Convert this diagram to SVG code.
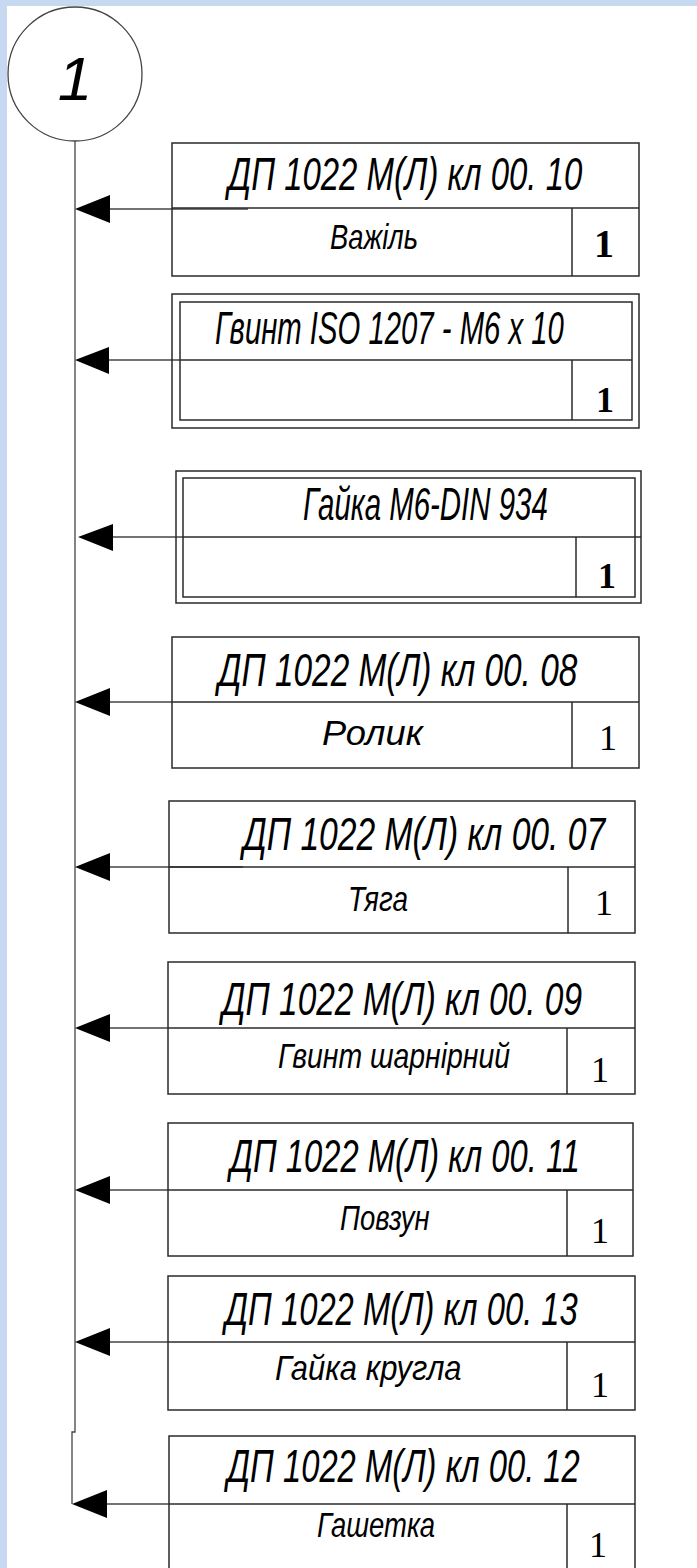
<svg xmlns="http://www.w3.org/2000/svg" width="697" height="1568" viewBox="0 0 697 1568">
<style>
.frame{fill:none;stroke:#2a2a2a;stroke-width:1.5}
.t1{font-family:"Liberation Sans","DejaVu Sans",sans-serif;font-style:italic;font-size:46px;fill:#000}
.t2{font-family:"Liberation Sans","DejaVu Sans",sans-serif;font-style:italic;font-size:35px;fill:#000}
.q{font-family:"Liberation Serif","Times New Roman",serif;font-size:36px;fill:#000;text-anchor:middle}
.qb{font-weight:bold}
.lead{stroke:#444;stroke-width:1.3;fill:none}
.arr{fill:#000}
</style>
<rect x="0" y="0" width="697" height="1568" fill="#ffffff"/>
<rect x="0" y="0" width="697" height="6" fill="#c6d9f1"/>
<rect x="0" y="0" width="7" height="1568" fill="#c6d9f1"/>

<g id="balloon">
<circle cx="75" cy="74" r="67" fill="#fff" stroke="#444" stroke-width="1.3"/>
<text x="75" y="100" text-anchor="middle" style="font-family:'Liberation Sans','DejaVu Sans',sans-serif;font-style:italic;font-size:62px">1</text>
</g>

<g id="connectors">
<path class="lead" d="M75,141 V1432 H72 V1504"/>
<line class="lead" x1="108" y1="209" x2="248" y2="209"/>
<line class="lead" x1="108" y1="360" x2="180" y2="360"/>
<line class="lead" x1="111" y1="537" x2="183" y2="537"/>
<line class="lead" x1="108" y1="702" x2="172" y2="702"/>
<line class="lead" x1="108" y1="867" x2="243" y2="867"/>
<line class="lead" x1="108" y1="1028" x2="168" y2="1028"/>
<line class="lead" x1="108" y1="1190" x2="168" y2="1190"/>
<line class="lead" x1="108" y1="1342" x2="168" y2="1342"/>
<line class="lead" x1="105" y1="1504" x2="169" y2="1504"/>
<polygon class="arr" points="75,209 110,195 110,223"/>
<polygon class="arr" points="75,360 109,347 109,374"/>
<polygon class="arr" points="78,537 113,524 113,551"/>
<polygon class="arr" points="75,702 110,688 110,716"/>
<polygon class="arr" points="75,867 110,853 110,881"/>
<polygon class="arr" points="75,1028 110,1014 110,1042"/>
<polygon class="arr" points="75,1190 110,1176 110,1204"/>
<polygon class="arr" points="75,1342 110,1328 110,1356"/>
<polygon class="arr" points="72,1504 107,1490 107,1518"/>
</g>

<g id="node1">
<rect class="frame" x="172" y="143" width="467" height="133"/>
<line class="frame" x1="172" y1="208" x2="639" y2="208"/>
<line class="frame" x1="572" y1="208" x2="572" y2="276"/>
<text class="t1" transform="translate(228,190) scale(0.72,1)" textLength="492" lengthAdjust="spacingAndGlyphs">ДП 1022 М(Л) кл 00. 10</text>
<text class="t2" transform="translate(330,249) scale(0.8,1)" textLength="110" lengthAdjust="spacingAndGlyphs">Важіль</text>
<text class="q" x="604" y="257" style="font-size:40px;font-weight:600">1</text>
</g>

<g id="node2">
<rect class="frame" x="172" y="294" width="467" height="134"/>
<rect class="frame" x="180" y="302" width="452" height="118"/>
<line class="frame" x1="180" y1="360" x2="632" y2="360"/>
<line class="frame" x1="572" y1="360" x2="572" y2="420"/>
<text class="t1" transform="translate(215,344) scale(0.68,1)" textLength="513" lengthAdjust="spacingAndGlyphs">Гвинт ISO 1207 - M6 x 10</text>
<text class="q qb" x="605" y="412">1</text>
</g>

<g id="node3">
<rect class="frame" x="176" y="471" width="465" height="132"/>
<rect class="frame" x="183" y="478" width="452" height="119"/>
<line class="frame" x1="183" y1="537" x2="641" y2="537"/>
<line class="frame" x1="576" y1="537" x2="576" y2="597"/>
<text class="t1" transform="translate(303,520) scale(0.6,1)" textLength="408" lengthAdjust="spacingAndGlyphs">Гайка М6-DIN 934</text>
<text class="q qb" x="607" y="588">1</text>
</g>

<g id="node4">
<rect class="frame" x="172" y="637" width="467" height="131"/>
<line class="frame" x1="172" y1="702" x2="639" y2="702"/>
<line class="frame" x1="572" y1="702" x2="572" y2="768"/>
<text class="t1" transform="translate(218,686) scale(0.72,1)" textLength="499" lengthAdjust="spacingAndGlyphs">ДП 1022 М(Л) кл 00. 08</text>
<text class="t2" transform="translate(322,745) scale(0.9,1)" textLength="112" lengthAdjust="spacingAndGlyphs">Ролик</text>
<text class="q" x="608" y="750">1</text>
</g>

<g id="node5">
<rect class="frame" x="169" y="801" width="466" height="132"/>
<line class="frame" x1="169" y1="867" x2="635" y2="867"/>
<line class="frame" x1="568" y1="867" x2="568" y2="933"/>
<text class="t1" transform="translate(243,850) scale(0.72,1)" textLength="503" lengthAdjust="spacingAndGlyphs">ДП 1022 М(Л) кл 00. 07</text>
<text class="t2" transform="translate(348,911) scale(0.8,1)" textLength="75" lengthAdjust="spacingAndGlyphs">Тяга</text>
<text class="q" x="604" y="915">1</text>
</g>

<g id="node6">
<rect class="frame" x="168" y="962" width="467" height="132"/>
<line class="frame" x1="168" y1="1028" x2="635" y2="1028"/>
<line class="frame" x1="567" y1="1028" x2="567" y2="1094"/>
<text class="t1" transform="translate(222,1015) scale(0.72,1)" textLength="500" lengthAdjust="spacingAndGlyphs">ДП 1022 М(Л) кл 00. 09</text>
<text class="t2" transform="translate(278,1068) scale(0.85,1)" textLength="273" lengthAdjust="spacingAndGlyphs">Гвинт шарнірний</text>
<text class="q" x="600" y="1082">1</text>
</g>

<g id="node7">
<rect class="frame" x="168" y="1123" width="465" height="133"/>
<line class="frame" x1="168" y1="1190" x2="633" y2="1190"/>
<line class="frame" x1="567" y1="1190" x2="567" y2="1256"/>
<text class="t1" transform="translate(230,1172) scale(0.72,1)" textLength="486" lengthAdjust="spacingAndGlyphs">ДП 1022 М(Л) кл 00. 11</text>
<text class="t2" transform="translate(340,1230) scale(0.8,1)" textLength="112" lengthAdjust="spacingAndGlyphs">Повзун</text>
<text class="q" x="600" y="1243">1</text>
</g>

<g id="node8">
<rect class="frame" x="168" y="1276" width="467" height="134"/>
<line class="frame" x1="168" y1="1342" x2="635" y2="1342"/>
<line class="frame" x1="567" y1="1342" x2="567" y2="1410"/>
<text class="t1" transform="translate(225,1325) scale(0.72,1)" textLength="490" lengthAdjust="spacingAndGlyphs">ДП 1022 М(Л) кл 00. 13</text>
<text class="t2" transform="translate(275,1380) scale(0.88,1)" textLength="212" lengthAdjust="spacingAndGlyphs">Гайка кругла</text>
<text class="q" x="600" y="1397">1</text>
</g>

<g id="node9">
<path class="frame" d="M169,1575 V1436 H635 V1575"/>
<line class="frame" x1="169" y1="1504" x2="635" y2="1504"/>
<line class="frame" x1="567" y1="1504" x2="567" y2="1575"/>
<text class="t1" transform="translate(227,1482) scale(0.72,1)" textLength="490" lengthAdjust="spacingAndGlyphs">ДП 1022 М(Л) кл 00. 12</text>
<text class="t2" transform="translate(317,1537) scale(0.85,1)" textLength="139" lengthAdjust="spacingAndGlyphs">Гашетка</text>
<text class="q" x="598" y="1557">1</text>
</g>
</svg>
